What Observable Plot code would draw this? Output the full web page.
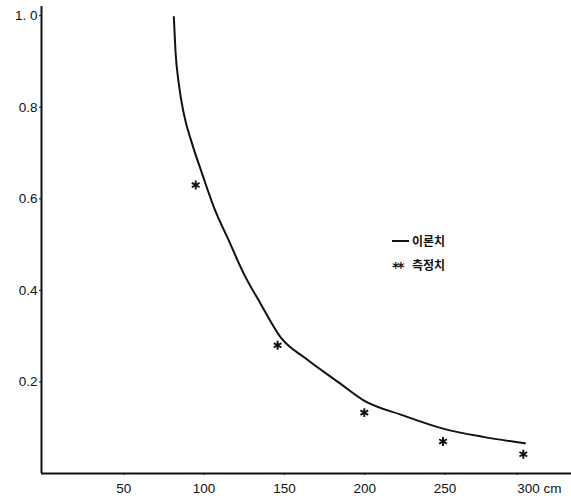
<!DOCTYPE html>
<html>
<head>
<meta charset="utf-8">
<script src="https://cdn.jsdelivr.net/npm/d3@7"></script>
<script src="https://cdn.jsdelivr.net/npm/@observablehq/plot@0.6"></script>
<style>
  html, body { margin: 0; padding: 0; background: #fff; }
  #wrap { position: relative; width: 571px; height: 501px; }
  #legend { position: absolute; left: 392px; top: 229px; font-family: "Noto Sans CJK KR", sans-serif; font-size: 12px; font-weight: 700; color: #111; line-height: 24px; }
  #legend .row { display: flex; align-items: center; white-space: nowrap; }
  #legend .ln { display: inline-block; width: 17px; height: 0; border-top: 2px solid #111; margin-right: 3px; }
  #legend .st { display: inline-block; width: 17px; margin-right: 3px; font-family: "DejaVu Sans", sans-serif; font-size: 14px; font-weight: 700; letter-spacing: -2px; line-height: 14px; padding-top: 4px; }
</style>
</head>
<body>
<div id="wrap">
  <div id="chart"></div>
  <div id="legend"></div>
</div>
<script>
// Theoretical curve (이론치): distance (cm) vs relative value
const theoryX = [82.4, 83.4, 85.5, 88.6, 93.8, 100, 107.3, 116.6, 126, 136.4, 148.8, 165, 185, 200, 225, 250, 275, 301];
const theoryY = [0.997, 0.924, 0.851, 0.786, 0.720, 0.655, 0.582, 0.509, 0.436, 0.371, 0.298, 0.250, 0.199, 0.161, 0.127, 0.098, 0.080, 0.066];

// Measured points (측정치)
const measX = [96, 147, 201, 250, 300];
const measY = [0.630, 0.280, 0.133, 0.070, 0.042];

// Tick labels
const xTicks = [50, 100, 150, 200, 250];
const xLastTick = [300];
const xUnit = "cm";
const yTicks = [0.2, 0.4, 0.6, 0.8, 1.0];
const yTickLabels = ["0.2", "0.4", "0.6", "0.8", "1. 0"];

const legendItems = ["이론치", "측정치"];
const legendStar = "**";

const theory = theoryX.map((x, i) => ({x, y: theoryY[i]}));
const meas = measX.map((x, i) => ({x, y: measY[i]}));

const chart = Plot.plot({
  width: 571,
  height: 501,
  marginLeft: 41,
  marginRight: 0,
  marginTop: 6,
  marginBottom: 28,
  style: {fontFamily: "'Liberation Sans', Arial, sans-serif", fontSize: "13px", color: "#111", background: "#fff"},
  x: {domain: [0, 330]},
  y: {domain: [0, 1.02]},
  marks: [
    Plot.axisY({ticks: yTicks, tickSize: 2, tickPadding: 2, tickFormat: d => yTickLabels[yTicks.indexOf(d)], label: null, fontSize: 13.5}),
    Plot.axisX({ticks: xTicks, tickSize: 2, tickPadding: 8, dx: 2, label: null, fontSize: 13.5}),
    Plot.axisX({ticks: xLastTick, tickSize: 2, tickPadding: 8, textAnchor: "start", dx: -6, tickFormat: d => `${d} ${xUnit}`, label: null, fontSize: 13.5}),
    Plot.ruleX([0], {stroke: "#111", strokeWidth: 2}),
    Plot.ruleY([0], {stroke: "#111", strokeWidth: 2}),
    Plot.line(theory, {x: "x", y: "y", curve: "monotone-x", stroke: "#111", strokeWidth: 2}),
    Plot.dot(meas, {x: "x", y: "y", symbol: "asterisk", r: 4.2, stroke: "#111", strokeWidth: 1.9})
  ]
});
document.getElementById("chart").appendChild(chart);

const legend = document.getElementById("legend");
legend.innerHTML =
  `<div class="row"><span class="ln"></span>${legendItems[0]}</div>` +
  `<div class="row"><span class="st">${legendStar}</span>${legendItems[1]}</div>`;
</script>
</body>
</html>
